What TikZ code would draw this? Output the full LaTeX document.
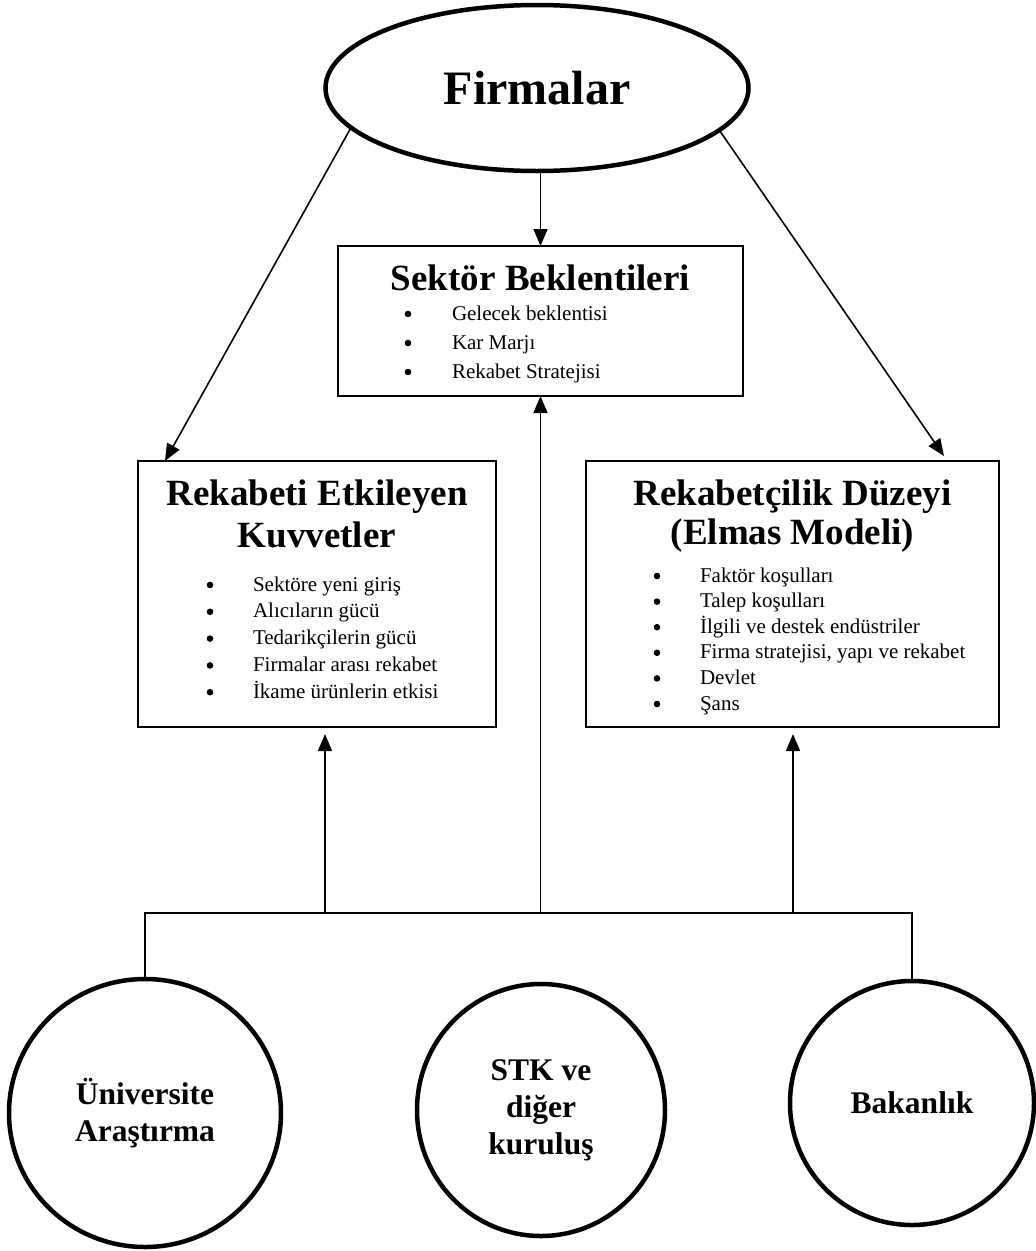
\documentclass[tikz,border=0pt]{standalone}
\usepackage{fontspec}
\setmainfont{Liberation Serif}
\usetikzlibrary{arrows.meta,shapes.geometric,calc}
\begin{document}
\begin{tikzpicture}[x=1pt,y=-1pt,
  every node/.style={inner sep=0pt, outer sep=0pt},
  oval/.style={draw, ellipse, line width=4.5pt},
  box/.style={draw, rectangle, line width=2pt},
  conn/.style={line width=1.6pt},
  arr/.style={conn, -{Triangle[length=17pt,width=14pt]}},
  title/.style={font=\fontsize{37}{42}\selectfont\bfseries, anchor=base},
  item/.style={font=\fontsize{21}{25}\selectfont, anchor=base west},
  ctext/.style={font=\fontsize{31.5}{37}\selectfont\bfseries, align=center},
  dotmark/.style={fill=black}
]
\fill[white] (0,0) rectangle (1036,1251);
\useasboundingbox (0,0) rectangle (1036,1251);

% Top ellipse
\node[oval, minimum width=423pt, minimum height=166pt,
      font=\fontsize{48}{55}\selectfont\bfseries] (F) at (537,88) {Firmalar};

% Boxes
\node[box, minimum width=405pt, minimum height=150pt] (S) at (540.5,321) {};
\node[box, minimum width=358pt, minimum height=266pt] (L) at (317,594) {};
\node[box, minimum width=413pt, minimum height=266pt] (R) at (792.5,594) {};

% Titles
\node[title] (St)  at (540.5,290) {Sektör Beklentileri};
\node[title] (Lt1) at (317,505) {Rekabeti Etkileyen};
\node[title] (Lt2) at (317,547) {Kuvvetler};
\node[title] (Rt1) at (792.5,505) {Rekabetçilik Düzeyi};
\node[title] (Rt2) at (792.5,544) {(Elmas Modeli)};

% Bullet items
\foreach \t [count=\i] in {Gelecek beklentisi, Kar Marjı, Rekabet Stratejisi}{
  \node[item] (S\i) at (452,{320+29*(\i-1)}) {\t};
  \fill[dotmark] (408,{314+29*(\i-1)}) circle (3.3pt);
}
\foreach \t [count=\i] in {Sektöre yeni giriş, Alıcıların gücü, Tedarikçilerin gücü,
    Firmalar arası rekabet, İkame ürünlerin etkisi}{
  \node[item] (L\i) at (253,{591+26.8*(\i-1)}) {\t};
  \fill[dotmark] (210,{585+26.8*(\i-1)}) circle (3.3pt);
}
\foreach \t [count=\i] in {Faktör koşulları, Talep koşulları, İlgili ve destek endüstriler,
    {Firma stratejisi, yapı ve rekabet}, Devlet, Şans}{
  \node[item] (R\i) at (700,{582+25.6*(\i-1)}) {\t};
  \fill[dotmark] (657,{576+25.6*(\i-1)}) circle (3.3pt);
}

% Bottom circles
\node[oval, ctext, minimum width=272pt, minimum height=268pt] (U) at (145,1113) {Üniversite\\Araştırma};
\node[oval, ctext, minimum width=248pt, minimum height=252pt] (M) at (541,1110) {STK ve\\diğer\\kuruluş};
\node[oval, ctext, minimum width=244pt, minimum height=244pt] (B) at (912,1103) {Bakanlık};

% Top connectors
\draw[arr] (S.north |- F.south) -- (S.north);
\draw[arr] (F.192) -- ([xshift=27pt]L.north west);
\draw[arr] (F.347) -- ([xshift=-55pt,yshift=5pt]R.north east);

% Bottom connectors
\coordinate (h1) at (325,913);
\coordinate (h3) at (793,913);
\coordinate (t1) at (h1 |- L.south);
\coordinate (t3) at (h3 |- R.south);
\draw[conn] (U.north) -- (U.north |- h1) -- (B.north |- h1) -- (B.north);
\draw[arr] (h1) -- ([yshift=-7pt]t1);
\draw[arr] (S.south |- h1) -- (S.south);
\draw[arr] (h3) -- ([yshift=-7pt]t3);
\end{tikzpicture}
\end{document}
